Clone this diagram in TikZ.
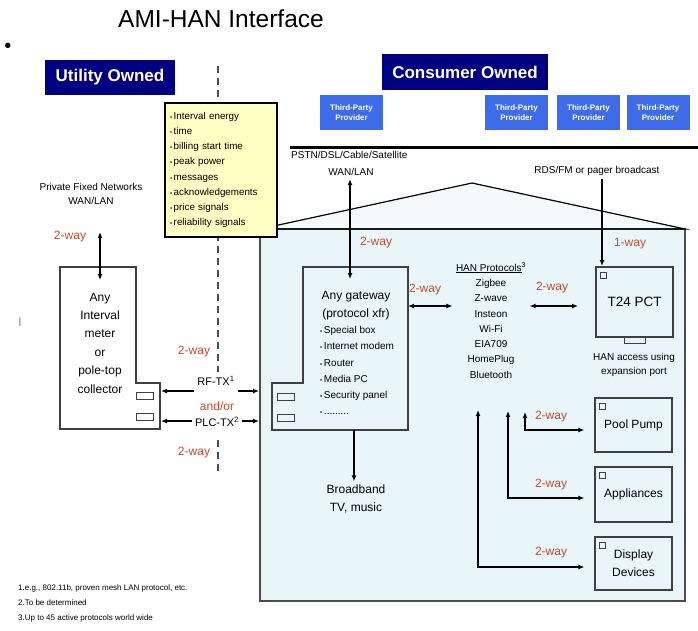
\documentclass[tikz,border=0pt]{standalone}
\usepackage{fontspec}
\setmainfont{Liberation Sans}
\usetikzlibrary{arrows.meta}
\definecolor{ownerblue}{RGB}{0,0,128}
\definecolor{partyblue}{RGB}{62,108,232}
\definecolor{wayred}{RGB}{200,72,40}
\definecolor{memo}{RGB}{255,255,196}
\definecolor{home}{RGB}{233,246,249}
\newcommand{\fsz}[2]{\fontsize{#1}{#2}\selectfont}
\newcommand{\dotitem}{{\fontsize{6}{6}\selectfont\textbullet}\,}

\begin{document}
\begin{tikzpicture}[x=1pt,y=-1pt,
  owner/.style={fill=ownerblue,text=white,font=\bfseries\fsz{17}{20},inner sep=0pt},
  party/.style={fill=partyblue,text=white,font=\bfseries\fsz{8}{10.5},align=center,minimum width=63pt,minimum height=35pt,inner sep=0pt},
  way/.style={text=wayred,font=\fsz{12}{14}},
  note/.style={font=\fsz{10}{14.5},align=center},
  devbox/.style={draw=black!75,line width=1.2pt,fill=home,minimum width=77pt,inner sep=0pt},
  slot/.style={draw=black!75,line width=1pt},
  border/.style={black!70,line width=1.4pt,dash pattern=on 7pt off 5pt},
  link/.style={line width=1.5pt,-{Latex[length=6pt,width=5pt]}},
  twoway/.style={line width=1.5pt,{Latex[length=6pt,width=5pt]}-{Latex[length=6pt,width=5pt]}}]
  \useasboundingbox (0,0) rectangle (698,630);

  \node[font=\fsz{24.5}{28}] (title) at (221,19) {AMI-HAN Interface};
  \node[font=\fsz{20}{20}] (dot) at (8,48) {\textbullet};
  \node[owner,minimum width=130pt,minimum height=35pt] (utility) at (110,77.5) {Utility Owned};
  \node[owner,minimum width=166pt,minimum height=36pt] (consumer) at (465,72) {Consumer Owned};
  \foreach \n/\x in {p1/351.5,p2/516.5,p3/588.5,p4/658}
    \node[party] (\n) at (\x,112.5) {Third-Party\\Provider};
  \draw[line width=3pt] (290,147) -- (698,147);

  \fill[home] (260,229) rectangle (685,601);
  \fill[home!50!white] (260,229) -- (472,183) -- (685,229) -- cycle;
  \draw[black!70,line width=1.3pt] (260,229) rectangle (685,601);
  \draw[line width=1.2pt] (260,229) -- (472,183) -- (685,229) -- cycle;

  \draw[border] (218,66) -- (218,372) (218,440) -- (218,472);
  \node[draw,line width=1.2pt,fill=memo,minimum width=112pt,minimum height=134pt,inner xsep=5pt,
    align=left,text width=102pt,font=\fsz{9.8}{15.2}] (memo) at (221,170)
    {\dotitem Interval energy\\ \dotitem time\\ \dotitem billing start time\\ \dotitem peak power\\
     \dotitem messages\\ \dotitem acknowledgements\\ \dotitem price signals\\ \dotitem reliability signals};

  \draw[black!75,line width=1.2pt,fill=white] (60,267) -- (136,267) -- (136,383) -- (160,383) -- (160,429) -- (60,429) -- cycle;
  \draw[slot] (136,392) rectangle (153,399) (136,413) rectangle (153,420);
  \node[font=\fsz{12}{18.4},align=center] (meter) at (100,343) {Any\\Interval\\meter\\or\\pole-top\\collector};

  \draw[black!75,line width=1.2pt,fill=home] (303,267) -- (408,267) -- (408,430) -- (272,430) -- (272,383) -- (303,383) -- cycle;
  \draw[slot] (277,393) rectangle (294,400) (277,414) rectangle (294,421);
  \node[font=\fsz{12}{18},align=center] (gateway) at (356,306) {Any gateway\\(protocol xfr)};
  \node[font=\fsz{10}{16.2},align=left,anchor=west,inner sep=0pt] (gwlist) at (320,370.5)
    {\dotitem Special box\\ \dotitem Internet modem\\ \dotitem Router\\ \dotitem Media PC\\ \dotitem Security panel\\ \dotitem .........};

  \node[note] (pfn) at (91,194) {Private Fixed Networks\\WAN/LAN};
  \node[note,anchor=west,inner sep=0pt] (pstn) at (291,155) {PSTN/DSL/Cable/Satellite};
  \node[note] (wan) at (351,172) {WAN/LAN};
  \node[note] (rds) at (597,171) {RDS/FM or pager broadcast};
  \node[note,font=\fsz{10}{15.3}] (han) at (491,320.5)
    {\underline{HAN Protocols}\textsuperscript{3}\\Zigbee\\Z-wave\\Insteon\\Wi-Fi\\EIA709\\HomePlug\\Bluetooth};
  \node[note] (expan) at (634,365) {HAN access using\\expansion port};
  \node[font=\fsz{11}{13}] (rf) at (216,381) {RF-TX\textsuperscript{1}};
  \node[font=\fsz{11}{13}] (plc) at (217,422) {PLC-TX\textsuperscript{2}};
  \node[way] (andor) at (217,406) {and/or};
  \node[font=\fsz{12}{18},align=center] (bb) at (356,499) {Broadband\\TV, music};

  \node[devbox,minimum height=70pt,font=\fsz{13.5}{16}] (t24) at (634.5,302) {T24 PCT};
  \node[devbox,minimum height=54pt,font=\fsz{12}{14}] (pool) at (633.5,425) {Pool Pump};
  \node[devbox,minimum height=55pt,font=\fsz{12}{14}] (appl) at (633.5,494.5) {Appliances};
  \node[devbox,minimum height=53pt,font=\fsz{12}{18},align=center] (disp) at (633.5,563.5) {Display\\Devices};
  \foreach \b in {t24,pool,appl,disp}
    \draw[slot,line width=0.8pt] ([shift={(5,6)}]\b.north west) rectangle ++(6,6);
  \draw[slot,fill=home] ([shift={(-10,0)}]t24.south) rectangle ([shift={(11,6)}]t24.south);

  \coordinate (pfnend) at (100,232);
  \coordinate (mtop) at (100,280);
  \coordinate (gwtop) at (350,279);
  \coordinate (gweast) at (408,306);
  \coordinate (gwbot) at (354,430);
  \coordinate (mslot1) at (161,391);
  \coordinate (mslot2) at (161,421);
  \coordinate (wall1) at (259,391);
  \coordinate (wall2) at (259,421);
  \coordinate (t24port) at (578,306);
  \coordinate (t24in) at (602,266);
  \coordinate (bus1) at (478,410);
  \coordinate (bus2) at (508,411);
  \coordinate (bus3) at (525,412);

  \draw[twoway] (pfnend) -- (mtop);
  \draw[twoway] (wan.south -| gwtop) -- (gwtop);
  \draw[link] (rds.south -| t24in) -- (t24in);
  \draw[twoway] (gweast) -- (han.west |- gweast);
  \draw[twoway] (han.east |- t24port) -- (t24port);
  \draw[link] (rf.west |- mslot1) -- (mslot1);
  \draw[link] (rf.east |- wall1) -- (wall1);
  \draw[link] (plc.west |- mslot2) -- (mslot2);
  \draw[link] (plc.east |- wall2) -- (wall2);
  \draw[link] (gwbot) -- (gwbot |- bb.north);
  \draw[twoway,line width=1.2pt,shorten >=10pt] (bus3) |- ([yshift=-5pt]pool.west);
  \draw[twoway,line width=1.2pt,shorten >=10pt] (bus2) |- ([yshift=-3.5pt]appl.west);
  \draw[twoway,line width=1.2pt,shorten >=10pt] (bus1) |- ([yshift=-3.5pt]disp.west);

  \foreach \n/\p/\t in {w1/{70,237}/2-way,w2/{376,243}/2-way,w3/{425,290}/2-way,w4/{552,288}/2-way,
      w5/{630,244}/1-way,w6/{551,417}/2-way,w7/{551,485}/2-way,w8/{551,553}/2-way,
      w9/{194,352}/2-way,w10/{194,453}/2-way}
    \node[way] (\n) at (\p) {\t};

  \node[font=\fsz{8}{15},align=left,anchor=west,inner sep=0pt] (foot) at (18,603)
    {1.e.g., 802.11b, proven mesh LAN protocol, etc.\\2.To be determined\\3.Up to 45 active protocols world wide};
  \node[font=\fsz{9}{9},text=black!70] (tick) at (20,322) {|};
\end{tikzpicture}
\end{document}
